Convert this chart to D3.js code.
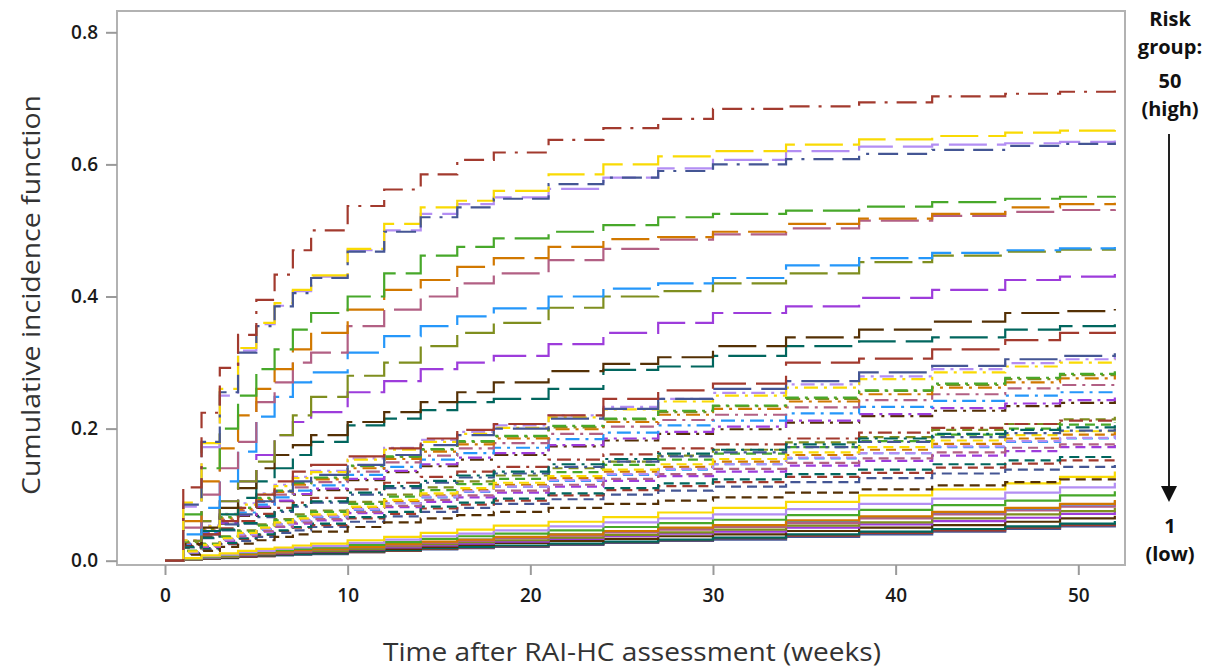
<!DOCTYPE html>
<html><head><meta charset="utf-8">
<script src="https://cdn.jsdelivr.net/npm/d3@7"></script>
<style>body{margin:0;background:#fff}svg{display:block}text{font-family:"Open Sans","DejaVu Sans",sans-serif}</style>
</head><body><svg id="c" width="1218" height="672"></svg>
<script>
// time points (weeks) at which each cumulative incidence curve is read
const weeks = [0,1,2,3,4,5,6,7,8,10,12,14,16,18,21,24,27,30,34,38,42,46,49,52];
const xTicks = [0,10,20,30,40,50];
const yTicks = [0,0.2,0.4,0.6,0.8];
const groupColors = ["#445694","#A23A2E","#01665E","#543005","#9D3CDB","#7F8E1F","#2597FA","#B26084","#D17800","#47A82A","#B38EF3","#F9DA04"];
const linePatterns = [null,"10,6","14,6,3,6","38,10","20,9,20,9,3,9"];
const riskLabels = ["Risk","group:","50","(high)","1","(low)"];
// cumulative incidence, risk groups 1 (low) .. 50 (high)
const cif = [
[0,.002,.003,.004,.006,.007,.008,.009,.010,.013,.015,.017,.019,.021,.024,.027,.030,.032,.036,.040,.044,.048,.052,.055],
[0,.002,.003,.005,.006,.007,.009,.010,.011,.013,.015,.018,.020,.022,.025,.028,.031,.034,.038,.042,.046,.050,.054,.057],
[0,.002,.004,.005,.007,.008,.009,.010,.011,.014,.016,.019,.021,.023,.026,.029,.032,.035,.040,.044,.048,.052,.056,.060],
[0,.002,.004,.005,.007,.009,.010,.012,.013,.016,.018,.021,.024,.027,.030,.033,.037,.040,.045,.050,.054,.059,.064,.068],
[0,.002,.005,.006,.008,.010,.011,.013,.014,.017,.020,.023,.026,.029,.033,.037,.041,.044,.050,.055,.060,.065,.071,.075],
[0,.002,.005,.006,.009,.010,.012,.014,.015,.018,.022,.025,.028,.031,.035,.039,.043,.047,.053,.058,.064,.070,.075,.080],
[0,.003,.005,.007,.010,.012,.014,.015,.017,.021,.024,.028,.032,.035,.040,.044,.049,.053,.059,.066,.072,.078,.085,.090],
[0,.003,.005,.007,.010,.011,.013,.015,.017,.020,.023,.027,.030,.034,.038,.043,.047,.051,.057,.064,.070,.076,.082,.087],
[0,.003,.006,.007,.010,.012,.014,.016,.017,.021,.025,.029,.032,.036,.040,.045,.050,.054,.061,.067,.074,.080,.086,.092],
[0,.003,.006,.008,.012,.014,.016,.018,.020,.024,.028,.033,.037,.041,.046,.051,.057,.062,.069,.077,.084,.091,.099,.105],
[0,.004,.007,.009,.013,.015,.018,.020,.022,.027,.032,.037,.041,.046,.052,.058,.064,.070,.078,.086,.094,.103,.111,.118],
[0,.004,.008,.011,.015,.018,.020,.023,.026,.031,.036,.042,.047,.053,.059,.066,.073,.080,.089,.099,.108,.117,.127,.135],
[0,.010,.017,.025,.030,.036,.042,.046,.051,.059,.067,.074,.080,.086,.093,.100,.106,.112,.119,.125,.132,.138,.142,.145],
[0,.011,.019,.026,.033,.039,.045,.050,.054,.064,.071,.079,.085,.091,.099,.107,.113,.119,.127,.133,.141,.147,.152,.155],
[0,.011,.019,.027,.034,.040,.046,.051,.056,.066,.074,.082,.088,.094,.102,.110,.117,.123,.131,.138,.146,.152,.157,.160],
[0,.009,.015,.021,.026,.031,.036,.040,.044,.051,.058,.064,.069,.074,.080,.086,.091,.096,.103,.108,.114,.119,.123,.125],
[0,.012,.021,.030,.037,.044,.051,.056,.061,.072,.081,.089,.096,.103,.112,.121,.128,.135,.144,.151,.159,.166,.172,.175],
[0,.015,.026,.037,.046,.055,.063,.070,.076,.089,.100,.111,.120,.129,.140,.150,.159,.168,.179,.187,.198,.207,.214,.218],
[0,.013,.023,.032,.040,.047,.055,.060,.066,.077,.087,.096,.104,.112,.121,.130,.138,.146,.155,.163,.172,.180,.185,.189],
[0,.013,.022,.031,.038,.045,.052,.058,.063,.074,.083,.092,.099,.106,.115,.124,.131,.139,.148,.155,.164,.171,.176,.180],
[0,.014,.023,.033,.041,.049,.057,.062,.068,.080,.090,.099,.107,.115,.125,.135,.142,.150,.160,.168,.177,.185,.191,.195],
[0,.015,.025,.036,.044,.053,.061,.067,.074,.086,.097,.107,.116,.124,.134,.145,.153,.162,.172,.181,.191,.200,.206,.210],
[0,.013,.023,.032,.040,.048,.055,.061,.067,.078,.087,.097,.105,.112,.122,.131,.139,.146,.156,.163,.173,.181,.186,.190],
[0,.014,.024,.034,.042,.050,.058,.064,.070,.082,.092,.102,.110,.118,.128,.138,.146,.154,.164,.172,.182,.190,.196,.200],
[0,.020,.034,.046,.056,.066,.074,.082,.088,.100,.110,.118,.126,.132,.142,.150,.158,.164,.172,.180,.187,.193,.197,.200],
[0,.022,.037,.049,.060,.071,.080,.088,.095,.108,.118,.127,.135,.142,.153,.161,.170,.176,.185,.194,.201,.207,.212,.215],
[0,.021,.035,.047,.057,.068,.076,.084,.090,.103,.113,.121,.129,.135,.146,.154,.162,.168,.176,.185,.192,.198,.202,.205],
[0,.024,.041,.056,.068,.080,.090,.100,.107,.122,.134,.143,.153,.160,.173,.182,.192,.199,.209,.219,.227,.234,.239,.243],
[0,.025,.042,.057,.069,.082,.091,.101,.109,.124,.136,.146,.156,.163,.175,.185,.195,.203,.212,.222,.231,.238,.243,.247],
[0,.029,.048,.066,.080,.094,.105,.117,.125,.143,.157,.168,.180,.188,.202,.214,.225,.234,.245,.257,.266,.275,.281,.285],
[0,.026,.044,.060,.073,.085,.096,.106,.114,.130,.142,.153,.163,.171,.184,.194,.205,.212,.223,.233,.242,.250,.255,.259],
[0,.027,.046,.062,.076,.089,.100,.111,.119,.135,.149,.159,.170,.178,.192,.203,.213,.221,.232,.243,.252,.261,.266,.270],
[0,.028,.048,.064,.078,.092,.104,.115,.123,.140,.154,.165,.176,.185,.199,.210,.221,.230,.241,.252,.262,.270,.276,.280],
[0,.029,.049,.066,.080,.095,.106,.118,.126,.144,.158,.169,.181,.189,.204,.215,.227,.235,.247,.258,.268,.277,.283,.287],
[0,.031,.053,.071,.087,.102,.115,.127,.136,.155,.171,.183,.195,.205,.220,.233,.245,.254,.267,.279,.290,.299,.305,.310],
[0,.031,.052,.070,.085,.101,.113,.125,.134,.153,.168,.180,.192,.201,.217,.229,.241,.250,.262,.275,.285,.294,.300,.305],
[0,.020,.040,.055,.070,.090,.105,.120,.130,.145,.160,.175,.190,.200,.215,.230,.245,.260,.272,.285,.295,.305,.310,.314],
[0,.020,.040,.060,.080,.100,.120,.135,.145,.158,.170,.185,.198,.207,.220,.245,.258,.268,.300,.306,.320,.334,.345,.347],
[0,.020,.045,.070,.095,.120,.140,.160,.180,.205,.215,.228,.240,.245,.260,.289,.294,.310,.325,.332,.338,.350,.355,.358],
[0,.025,.050,.080,.110,.140,.160,.175,.190,.210,.225,.240,.255,.270,.287,.298,.308,.325,.338,.350,.362,.375,.378,.381],
[0,.030,.060,.090,.120,.160,.190,.210,.225,.255,.272,.290,.300,.310,.328,.345,.360,.375,.385,.398,.410,.425,.430,.434],
[0,.030,.060,.090,.120,.150,.190,.220,.248,.280,.300,.325,.345,.360,.383,.400,.408,.420,.435,.452,.462,.468,.471,.472],
[0,.040,.080,.120,.165,.218,.248,.270,.285,.315,.340,.355,.370,.382,.400,.412,.420,.428,.447,.458,.466,.470,.473,.475],
[0,.050,.100,.140,.180,.240,.270,.300,.315,.355,.380,.400,.420,.435,.455,.472,.486,.494,.503,.515,.522,.528,.531,.532],
[0,.060,.120,.170,.220,.260,.290,.320,.345,.380,.410,.425,.445,.458,.475,.487,.490,.498,.510,.518,.525,.535,.540,.542],
[0,.070,.140,.200,.250,.290,.320,.350,.375,.400,.435,.462,.475,.488,.498,.508,.520,.525,.530,.536,.543,.548,.551,.552],
[0,.082,.172,.250,.318,.358,.386,.408,.430,.470,.500,.525,.540,.550,.563,.580,.594,.607,.620,.627,.630,.632,.634,.636],
[0,.088,.178,.260,.322,.360,.390,.410,.432,.472,.510,.535,.545,.560,.585,.600,.612,.620,.630,.638,.643,.648,.651,.652],
[0,.085,.180,.255,.315,.355,.385,.405,.428,.468,.498,.520,.535,.548,.570,.580,.590,.600,.608,.616,.622,.628,.631,.633],
[0,.111,.224,.292,.342,.395,.433,.470,.500,.537,.562,.585,.607,.618,.637,.655,.669,.684,.688,.694,.703,.707,.710,.712]
];

const svg = d3.select("#c");
svg.append("rect").attr("width",1218).attr("height",672).attr("fill","#fff");
const frame = {x0:117, y0:11, x1:1125, y1:565};
const x = d3.scaleLinear().domain([0,50]).range([165,1078.3]);
const y = d3.scaleLinear().domain([0,0.8]).range([560.7,32.3]);

svg.append("clipPath").attr("id","clip").append("rect")
  .attr("x",frame.x0+1).attr("y",frame.y0+1).attr("width",frame.x1-frame.x0-2).attr("height",frame.y1-frame.y0-2);

const line = d3.line().x(d=>x(d[0])).y(d=>y(d[1])).curve(d3.curveStepAfter);
const g = svg.append("g").attr("clip-path","url(#clip)");
cif.forEach((vals,i)=>{
  const pts = weeks.map((w,j)=>[w, vals[j]]);
  g.append("path").datum(pts).attr("d",line)
    .attr("fill","none")
    .attr("stroke",groupColors[i%12])
    .attr("stroke-width",2.2)
    .attr("stroke-dasharray",linePatterns[Math.floor(i/12)])
    .attr("stroke-linejoin","miter");
});

svg.append("rect").attr("x",frame.x0).attr("y",frame.y0)
  .attr("width",frame.x1-frame.x0).attr("height",frame.y1-frame.y0)
  .attr("fill","none").attr("stroke","#b2b2b2").attr("stroke-width",2);

const yAxis = svg.append("g").attr("transform",`translate(${frame.x0},0)`)
  .call(d3.axisLeft(y).tickValues(yTicks).tickFormat(d3.format(".1f")).tickSize(11).tickPadding(8));
const xAxis = svg.append("g").attr("transform",`translate(0,${frame.y1})`)
  .call(d3.axisBottom(x).tickValues(xTicks).tickFormat(d3.format("d")).tickSize(10).tickPadding(14));
[yAxis,xAxis].forEach(a=>{
  a.select(".domain").remove();
  a.selectAll(".tick line").attr("stroke","#9a9a9a").attr("stroke-width",2);
  a.selectAll(".tick text").attr("fill","#1a1a1a").style("font-size","19px").style("font-weight","600")
    .style("font-family","'Open Sans',sans-serif");
});

svg.append("text").attr("x",632).attr("y",661).attr("text-anchor","middle")
  .attr("fill","#333").style("font-size","26px")
  .attr("textLength",498).attr("lengthAdjust","spacingAndGlyphs")
  .text("Time after RAI-HC assessment (weeks)");
svg.append("text").attr("transform","translate(40,295) rotate(-90)").attr("text-anchor","middle")
  .attr("fill","#333").style("font-size","26px")
  .attr("textLength",400).attr("lengthAdjust","spacingAndGlyphs")
  .text("Cumulative incidence function");

const rx = 1170;
const rl = svg.append("g").attr("text-anchor","middle").attr("fill","#111")
  .style("font-size","20px").style("font-weight","bold");
const rPos = [26,54,88,116,533,561];
riskLabels.forEach((t,i)=>rl.append("text").attr("x",rx).attr("y",rPos[i]).text(t));
svg.append("line").attr("x1",1169).attr("x2",1169).attr("y1",134).attr("y2",488)
  .attr("stroke","#222").attr("stroke-width",2);
svg.append("path").attr("d","M1161,486 L1177,486 L1169,502 Z").attr("fill","#111");
</script></body></html>
